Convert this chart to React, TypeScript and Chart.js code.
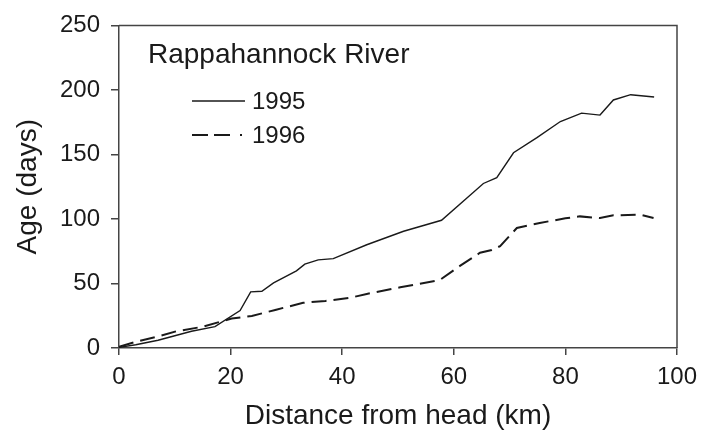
import React, { useEffect, useRef } from "react";
import { Chart, registerables } from "chart.js";

Chart.register(...registerables);

const distance1995 = [0, 3, 7, 10, 13, 17.2, 21.7, 23.6, 25.6, 27.7, 31.8, 33.3, 35.7, 38.4, 44.4, 51, 57.8, 65.3, 67.7, 70.7, 74.9, 79.1, 82.9, 86.2, 88.6, 91.7, 95.9];
const age1995 = [0.5, 2.5, 6, 9.5, 13, 16.5, 29, 43.5, 44, 50.5, 59.8, 65, 68.3, 69.3, 80, 90.5, 99, 127.5, 132, 151.3, 163, 175.5, 182, 180.5, 192.2, 196.3, 194.5];

const distance1996 = [0, 3, 7, 10.3, 14.8, 20.2, 23.8, 28, 33, 37, 41.4, 44.4, 50.4, 57.5, 61.1, 64.7, 66.8, 68.3, 71.3, 75.4, 80, 82.6, 86.2, 88.6, 93.4, 95.8];
const age1996 = [1, 4.8, 9, 13, 16.3, 22.8, 24.8, 29.5, 35, 36.5, 38.9, 41.9, 47, 52.7, 63.6, 73.8, 75.9, 79, 93, 96.9, 100.5, 102, 100.7, 102.8, 103.3, 100.7];

const seriesLabels = ["1995", "1996"];
const chartTitle = "Rappahannock River";
const xTitle = "Distance from head (km)";
const yTitle = "Age (days)";

const FONT = "'Liberation Sans', Arial, sans-serif";
const INK = "#1a1a1a";
const AXIS = "#444";

const framePlugin = {
  id: "frameAndLegend",
  afterDraw(chart: any) {
    const { ctx, chartArea } = chart;
    ctx.save();
    // frame top & right
    ctx.strokeStyle = AXIS;
    ctx.lineWidth = 1.5;
    ctx.beginPath();
    ctx.moveTo(chartArea.left, chartArea.top);
    ctx.lineTo(chartArea.right, chartArea.top);
    ctx.lineTo(chartArea.right, chartArea.bottom);
    ctx.stroke();

    // title inside
    ctx.fillStyle = INK;
    ctx.font = `28px ${FONT}`;
    ctx.textBaseline = "alphabetic";
    ctx.textAlign = "left";
    ctx.fillText(chartTitle, 148, 63);

    // legend
    ctx.font = `24px ${FONT}`;
    ctx.textBaseline = "middle";
    const rows = [101, 135];
    const dashes = [[], [16, 6, 16, 10, 2, 20]];
    const widths = [1.3, 2];
    rows.forEach((y, i) => {
      ctx.strokeStyle = INK;
      ctx.lineWidth = widths[i];
      ctx.setLineDash(dashes[i]);
      ctx.beginPath();
      ctx.moveTo(192, y);
      ctx.lineTo(245, y);
      ctx.stroke();
      ctx.setLineDash([]);
      ctx.fillText(seriesLabels[i], 252, y + 1);
    });
    ctx.restore();
  },
};

export default function App() {
  const ref = useRef<HTMLCanvasElement | null>(null);
  useEffect(() => {
    if (!ref.current) return;
    const chart = new Chart(ref.current, {
      type: "line",
      data: {
        datasets: [
          {
            label: seriesLabels[0],
            data: distance1995.map((x, i) => ({ x, y: age1995[i] })),
            borderColor: INK,
            borderWidth: 1.4,
            pointRadius: 0,
            tension: 0,
          },
          {
            label: seriesLabels[1],
            data: distance1996.map((x, i) => ({ x, y: age1996[i] })),
            borderColor: INK,
            borderWidth: 2,
            borderDash: [15, 7],
            pointRadius: 0,
            tension: 0,
          },
        ],
      },
      options: {
        animation: false,
        responsive: false,
        maintainAspectRatio: false,
        layout: { padding: { top: 22, right: 25, left: 0, bottom: 0 } },
        plugins: { legend: { display: false }, tooltip: { enabled: false } },
        scales: {
          x: {
            type: "linear",
            min: 0,
            max: 100,
            afterFit: (s: any) => {
              s.height = 86;
              s.paddingRight = 0;
            },
            ticks: { stepSize: 20, color: INK, font: { family: FONT, size: 24 }, padding: 8, maxRotation: 0 },
            grid: { drawOnChartArea: false, tickLength: 7, tickColor: AXIS, lineWidth: 1.5 },
            border: { display: true, color: AXIS, width: 1.5 },
            title: { display: true, text: xTitle, color: INK, font: { family: FONT, size: 28 }, padding: { top: 0, bottom: 1 } },
          },
          y: {
            type: "linear",
            min: 0,
            max: 250,
            afterFit: (s: any) => {
              s.width = 119;
            },
            ticks: { stepSize: 50, color: INK, font: { family: FONT, size: 24 }, padding: 11 },
            grid: { drawOnChartArea: false, tickLength: 8, tickColor: AXIS, lineWidth: 1.5 },
            border: { display: true, color: AXIS, width: 1.5 },
            title: { display: true, text: yTitle, color: INK, font: { family: FONT, size: 28 }, padding: { top: 11, bottom: 0 } },
          },
        },
      },
      plugins: [framePlugin],
    });
    return () => chart.destroy();
  }, []);
  return (
    <div style={{ position: "fixed", left: 0, top: 0, width: 702, height: 434, background: "#fff" }}>
      <canvas ref={ref} width={702} height={434} style={{ display: "block" }} />
    </div>
  );
}
